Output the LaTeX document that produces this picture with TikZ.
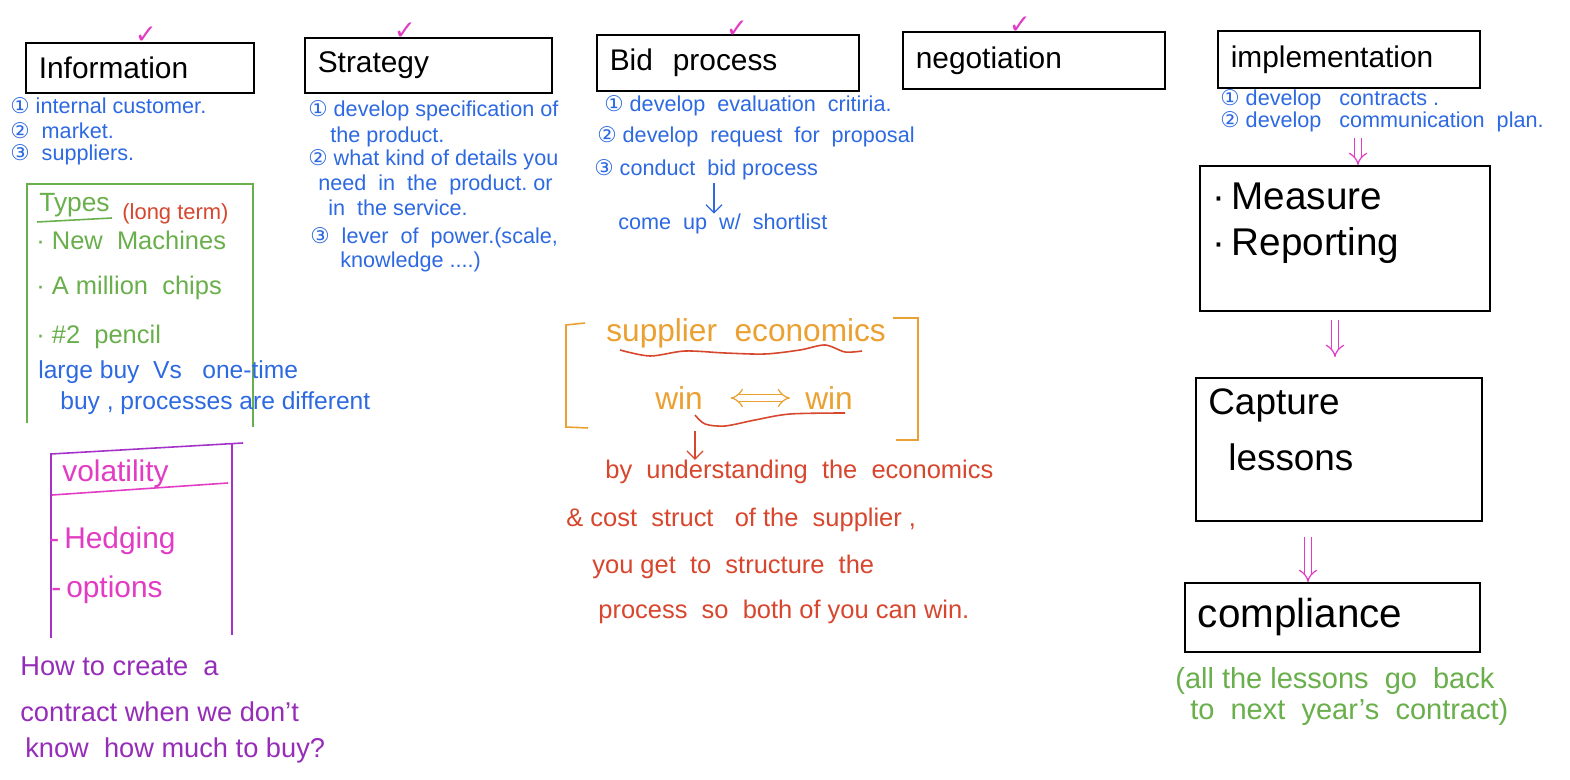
\documentclass[tikz,border=0pt]{standalone}
\usepackage{fontspec}
\setmainfont{Liberation Sans}
\newfontfamily\symf{DejaVu Sans}
\usetikzlibrary{arrows.meta}
\definecolor{nblue}{RGB}{45,105,225}
\definecolor{ngreen}{RGB}{105,175,75}
\definecolor{nred}{RGB}{215,70,45}
\definecolor{norange}{RGB}{235,160,50}
\definecolor{nmag}{RGB}{225,60,195}
\definecolor{npurple}{RGB}{150,45,185}
\definecolor{nviolet}{RGB}{165,50,200}
\newcommand{\cn}[1]{{\symf #1}}
\newcommand{\fs}[1]{\fontsize{#1}{#1}\selectfont}
\begin{document}
\begin{tikzpicture}[x=0.02cm,y=-0.02cm,
  titlebox/.style={draw=black, line width=0.9pt, anchor=north west, align=left,
    inner xsep=0.26cm, inner ysep=0pt, font=\fs{17}},
  plainbox/.style={draw=black, line width=0.9pt, anchor=north west, inner sep=0pt},
  txt/.style={anchor=west, inner sep=0pt},
  note/.style={txt, text=nblue, font=\fs{12.3}},
  chk/.style={text=nmag, font=\symf\fs{15}, inner sep=0pt, anchor=south},
  dbl/.style={draw=nmag, line width=0.7pt, double=white, double distance=3pt, -{Implies}},
  thin arrow/.style={line width=0.7pt, -{Straight Barb[length=1.6mm]}}
]
\useasboundingbox[fill=white] (0,0) rectangle (1570,780);

% ---------- top title boxes ----------
\node[titlebox, text width=4.04cm, minimum height=1.0cm] (info) at (25,42) {Information};
\node[titlebox, text width=4.42cm, minimum height=1.1cm] (strat) at (304,37) {Strategy};
\node[titlebox, text width=4.72cm, minimum height=1.12cm] (bid) at (596,34) {Bid\ \ process};
\node[titlebox, text width=4.72cm, minimum height=1.14cm] (nego) at (902,31) {negotiation};
\node[titlebox, text width=4.72cm, minimum height=1.14cm] (impl) at (1217,30) {implementation};

% check marks
\node[chk] (c1) at (146,44) {✓};
\node[chk] (c2) at (405,40) {✓};
\node[chk] (c3) at (737,38) {✓};
\node[chk] (c4) at (1020,34) {✓};

% ---------- Information notes ----------
\node[note] (i1) at (10,106) {\cn{①}\ internal\ customer.};
\node[note] (i2) at (10,131) {\cn{②}\ \ market.};
\node[note] (i3) at (10,155) {\cn{③}\ \ suppliers.};

% green box
\draw[ngreen, line width=0.9pt] (27,423) -- (27,184) -- (253,184) -- (253,427);
\node[txt, text=ngreen, font=\fs{15}] (types) at (39,205) {Types};
\draw[ngreen, line width=0.9pt] (37,222) -- (112,218);
\node[txt, text=nred, font=\fs{12.5}] (lt) at (122,214) {(long term)};
\node[txt, text=ngreen, font=\fs{14.5}] (g1) at (36,240) {·\ New\ \ Machines};
\node[txt, text=ngreen, font=\fs{14.5}] (g2) at (36,288) {·\ A million\ \ chips};
\node[txt, text=ngreen, font=\fs{14.5}] (g3) at (36,337) {·\ \#2\ \ pencil};
\node[txt, text=nblue, font=\fs{14}] (lb1) at (38,372) {large buy\ \ Vs\ \ \ one-time};
\node[txt, text=nblue, font=\fs{14}] (lb2) at (60,403) {buy , processes are different};

% purple box
\draw[nviolet, line width=0.9pt] (51,638) -- (51,454) -- (243,443);
\draw[nviolet, line width=0.9pt] (232,443) -- (232,635);
\draw[nmag, line width=0.9pt] (52,495) -- (228,483);
\node[txt, text=nmag, font=\fs{17}] (vol) at (62,474) {volatility};
\node[txt, text=nmag, font=\fs{17}] (hed) at (49,541) {-\,Hedging};
\node[txt, text=nmag, font=\fs{17}] (opt) at (51,590) {-\,options};
\node[txt, text=npurple, font=\fs{15.5}] (q1) at (20,666) {How\ to\ create\ \ a};
\node[txt, text=npurple, font=\fs{15.5}] (q2) at (20,712) {contract\ when\ we\ don't};
\node[txt, text=npurple, font=\fs{15.5}] (q3) at (25,750) {know\ \ how\ much\ to\ buy?};

% ---------- Strategy notes ----------
\node[note] (s1) at (308,111) {\cn{①}\ develop specification of};
\node[note] (s2) at (330,137) {the product.};
\node[note] (s3) at (308,160) {\cn{②}\ what kind of details you};
\node[note] (s4) at (318,185) {need\ \ in\ \ the\ \ product.\ or};
\node[note] (s5) at (328,208) {in\ \ the service.};
\node[note] (s6) at (310,238) {\cn{③}\ \ lever\ \ of\ \ power.(scale,};
\node[note] (s7) at (340,262) {knowledge\ ....)};

% ---------- Bid notes ----------
\node[note] (b1) at (604,106) {\cn{①}\ develop\ \ evaluation\ \ critiria.};
\node[note] (b2) at (597,137) {\cn{②}\ develop\ \ request\ \ for\ \ proposal};
\node[note] (b3) at (594,170) {\cn{③}\ conduct\ \ bid\ process};
\node[note] (sl) at (618,224) {come\ \ up\ \ w/\ \ shortlist};
\coordinate (ba) at (714,183);
\draw[nblue, thin arrow] (ba) -- (ba |- sl.north);

% ---------- Implementation notes ----------
\node[note] (m1) at (1220,100) {\cn{①}\ develop\ \ \ contracts\ .};
\node[note] (m2) at (1220,122) {\cn{②}\ develop\ \ \ communication\ \ plan.};

% right column boxes
\node[plainbox, minimum width=5.8cm, minimum height=2.9cm] (meas) at (1199,165) {};
\node[txt, font=\fs{22}] (mt1) at (1212,196) {·\,Measure};
\node[txt, font=\fs{22}] (mt2) at (1212,246) {·\,Reporting};

\node[plainbox, minimum width=5.72cm, minimum height=2.86cm] (capt) at (1195,377) {};
\node[txt, font=\fs{21}] (ct1) at (1208,405) {Capture};
\node[txt, font=\fs{21}] (ct2) at (1228,457) {lessons};

\node[titlebox, text width=5.38cm, minimum height=1.38cm, font=\fs{23}] (comp) at (1184,582) {compliance};

\node[txt, text=ngreen, font=\fs{16.5}] (gn1) at (1175,681) {(all\ the\ lessons\ \ go\ \ back};
\node[txt, text=ngreen, font=\fs{16.5}] (gn2) at (1190,712) {to\ \ next\ \ year's\ \ contract)};

% double arrows
\coordinate (da1) at (1358,138);
\draw[dbl] (da1) -- (da1 |- meas.north);
\coordinate (da2) at (1335,320);
\draw[dbl, shorten >=0.4cm] (da2) -- (da2 |- capt.north);
\coordinate (da3) at (1308,537);
\draw[dbl] (da3) -- (da3 |- comp.north);

% ---------- centre: supplier economics ----------
\draw[norange, line width=0.9pt] (585,323) -- (566,325) -- (566,427) -- (588,428);
\draw[norange, line width=0.9pt] (893,318) -- (918,318) -- (918,440) -- (896,440);
\node[txt, text=norange, font=\fs{18}] (se) at (606,333) {supplier\ \ economics};
\draw[nred, line width=0.9pt] plot[smooth] coordinates {(620,350) (650,356) (685,351) (725,353) (765,354) (800,350) (825,345) (845,352) (862,351)};
\node[txt, text=norange, font=\fs{18}] (w1) at (655,398) {win};
\node[txt, text=norange, font=\fs{18}] (w2) at (805,398) {win};
\draw[norange, line width=0.7pt, double=white, double distance=3pt, {Implies}-{Implies}, shorten <=0.55cm, shorten >=0.3cm] (w1.east) -- (w2.west);
\draw[nred, line width=0.9pt] plot[smooth] coordinates {(695,415) (705,424) (725,426) (755,420) (790,414) (845,413)};
\coordinate (ra) at (695,431);
\node[txt, text=nred, font=\fs{14.5}] (r1) at (605,472) {by\ \ understanding\ \ the\ \ economics};
\node[txt, text=nred, font=\fs{14.5}] (r2) at (566,520) {\&\ cost\ \ struct\ \ \ of\ the\ \ supplier\ ,};
\node[txt, text=nred, font=\fs{14.5}] (r3) at (592,567) {you\ get\ \ to\ \ structure\ \ the};
\node[txt, text=nred, font=\fs{14.5}] (r4) at (598,612) {process\ \ so\ \ both\ of\ you\ can\ win.};
\draw[nred, thin arrow] (ra) -- (ra |- r1.north);
\end{tikzpicture}
\end{document}
